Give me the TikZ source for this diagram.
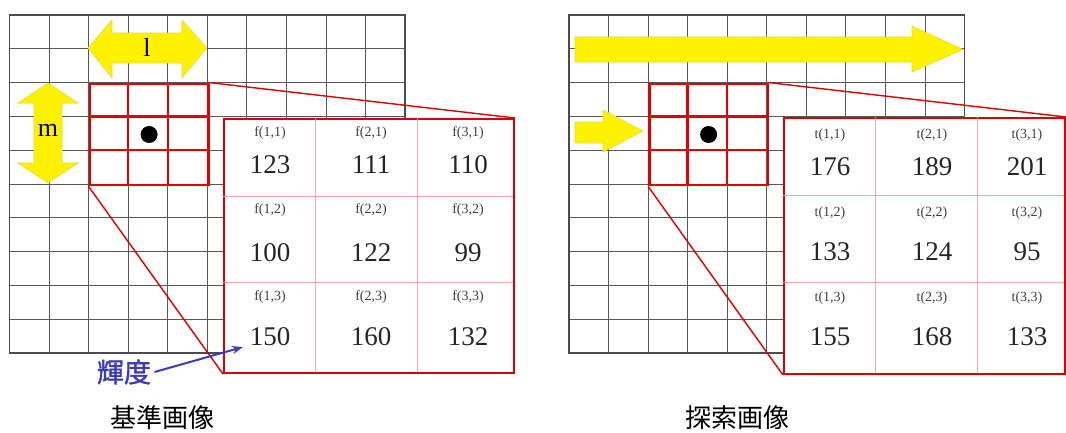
\documentclass[tikz,border=0pt]{standalone}
\usepackage{fontspec}
\setmainfont{Liberation Serif}
\newfontfamily\cjk{Noto Sans CJK JP}
\newfontfamily\cjkbold[FakeBold=1.5]{Noto Sans CJK JP}
\usetikzlibrary{arrows.meta}
\definecolor{kidoblue}{RGB}{60,60,185}
\tikzset{
  gridline/.style={draw=gray!70!black, line width=0.8pt},
  gridframe/.style={draw=black!70, line width=1.6pt},
  winline/.style={draw=red!90!black, line width=2.4pt},
  winbox/.style={winline, minimum width=118.6pt, minimum height=101.4pt, inner sep=0pt, anchor=north west},
  tabframe/.style={draw=red!85!black, line width=2pt, fill=white, inner sep=0pt, anchor=north west},
  tabline/.style={draw=red!35, line width=0.8pt},
  zoomline/.style={draw=red!85!black, line width=1.4pt},
  yarrow/.style={fill=yellow, draw=yellow!75!gray, line width=0.6pt},
  idx/.style={font=\fontsize{14}{14}\selectfont, text=black!75},
  val/.style={font=\fontsize{27}{27}\selectfont, text=black!85},
  captext/.style={font=\cjk\fontsize{26}{26}\selectfont},
}
\begin{document}
\begin{tikzpicture}[x=1pt,y=-1pt]
\useasboundingbox (0,0) rectangle (1066,432);
% grids
\foreach \gx in {9.5,569}{
  \foreach \i in {0,...,10}
    \draw[gridline] ({\gx+\i*39.55},15) -- ++(0,338);
  \foreach \j in {0,...,10}
    \draw[gridline] (\gx,{15+\j*33.8}) -- ++(395.5,0);
  \draw[gridframe] (\gx,15) rectangle ++(395.5,338);
}
% yellow arrows
\draw[yarrow] (88,48) -- (112,20) -- (112,33) -- (182,33) -- (182,20) -- (207,48)
  -- (182,78) -- (182,63) -- (112,63) -- (112,78) -- cycle;
\node[font=\fontsize{26}{26}\selectfont] (lenl) at (147,47) {l};
\draw[yarrow] (48,83) -- (78,103) -- (62,103) -- (62,163) -- (78,163) -- (48,183)
  -- (18,163) -- (34,163) -- (34,103) -- (18,103) -- cycle;
\node[font=\fontsize{26}{26}\selectfont] (lenm) at (48,130) {m};
\draw[yarrow] (575,37) -- (912,37) -- (912,26) -- (963,49.5) -- (912,72) -- (912,62) -- (575,62) -- cycle;
\draw[yarrow] (575,122) -- (603,122) -- (603,110) -- (643,131) -- (603,152) -- (603,143) -- (575,143) -- cycle;
% windows
\node[winbox] (lwin) at (88.6,82.6) {};
\node[winbox] (rwin) at (648.1,82.6) {};
\foreach \wx in {88.6,648.1}{
  \draw[winline] ({\wx+39.55},82.6) -- ++(0,101.4);
  \draw[winline] ({\wx+79.1},82.6) -- ++(0,101.4);
  \draw[winline] (\wx,116.4) -- ++(118.6,0);
  \draw[winline] (\wx,150.2) -- ++(118.6,0);
}
\fill (lwin.center) circle[radius=8.5];
\fill (rwin.center) circle[radius=8.5];
% tables
\node[tabframe, minimum width=290pt, minimum height=254pt] (ltab) at (223,118) {};
\node[tabframe, minimum width=281pt, minimum height=256pt] (rtab) at (783,117) {};
\draw[zoomline] (lwin.north east) -- (ltab.north east);
\draw[zoomline] (lwin.south west) -- (ltab.south west);
\draw[zoomline] (rwin.north east) -- (rtab.north east);
\draw[zoomline] (rwin.south west) -- (rtab.south west);
\draw[tabline] (315,118) -- (315,372);
\draw[tabline] (417,118) -- (417,372);
\draw[tabline] (223,196) -- (513,196);
\draw[tabline] (223,282) -- (513,282);
\draw[tabline] (875,117) -- (875,373);
\draw[tabline] (977,117) -- (977,373);
\draw[tabline] (783,195) -- (1064,195);
\draw[tabline] (783,282) -- (1064,282);
% cell texts
\foreach \c/\x in {1/270,2/371,3/468}
  \foreach \r/\y in {1/133,2/210,3/297}
    \node[idx] (f\c\r) at (\x,\y) {f(\c,\r)};
\foreach \c/\x in {1/830,2/932,3/1027}
  \foreach \r/\y in {1/135,2/213,3/298}
    \node[idx] (t\c\r) at (\x,\y) {t(\c,\r)};
\foreach \c/\r/\x/\y/\v in {1/1/270/165/123, 2/1/371/165/111, 3/1/468/165/110,
  1/2/270/253/100, 2/2/371/253/122, 3/2/468/253/99,
  1/3/270/337/150, 2/3/371/337/160, 3/3/468/337/132}
  \node[val] (fv\c\r) at (\x,\y) {\v};
\foreach \c/\r/\x/\y/\v in {1/1/830/167/176, 2/1/932/167/189, 3/1/1027/167/201,
  1/2/830/252/133, 2/2/932/252/124, 3/2/1027/252/95,
  1/3/830/337/155, 2/3/932/337/168, 3/3/1027/337/133}
  \node[val] (tv\c\r) at (\x,\y) {\v};
% luminance label
\node[font=\cjkbold\fontsize{27}{27}\selectfont, text=kidoblue] (kido) at (124,372) {輝度};
\coordinate (kidotip) at (243,347);
\draw[-{Stealth[length=11pt,width=8pt]}, draw=kidoblue, line width=2pt] (kido.east) -- (kidotip);
% captions
\node[captext] (lcap) at (162,418) {基準画像};
\node[captext] (rcap) at (737,418) {探索画像};
\end{tikzpicture}
\end{document}
